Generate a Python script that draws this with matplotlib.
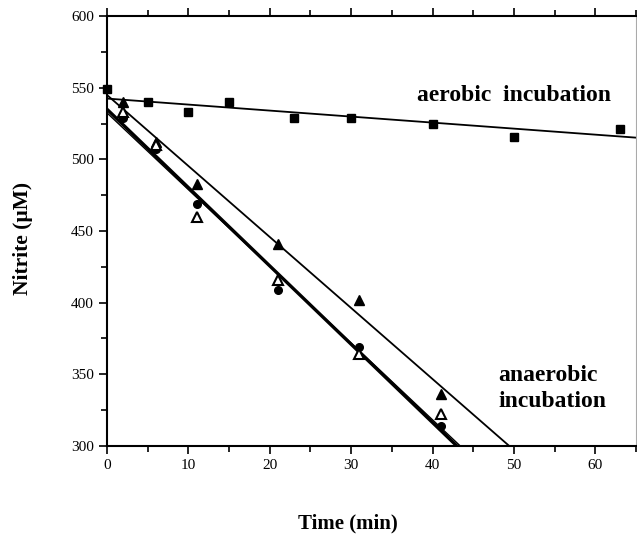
import numpy as np
import matplotlib.pyplot as plt
from matplotlib.ticker import MultipleLocator

# aerobic incubation (squares)
t_aer = [0, 5, 10, 15, 23, 30, 40, 50, 63]
n_aer = [549, 540, 533, 540, 529, 529, 525, 516, 521]

# anaerobic incubation
t_ana = [2, 6, 11, 21, 31, 41]
n_tri_filled = [540, 512, 483, 441, 402, 336]
n_circle = [529, 507, 469, 409, 369, 314]
n_tri_open = [533, 510, 460, 416, 364, 322]

# regression lines (intercept, slope)
fit_aer = (542.5, -0.42)
fit_tri_filled = (545.0, -4.96)
fit_circle = (535.0, -5.47)
fit_tri_open = (532.5, -5.36)

plt.rcParams['font.family'] = ['Liberation Serif', 'DejaVu Serif']

fig = plt.figure(figsize=(6.37, 5.41), dpi=100)
ax = fig.add_axes([0.168, 0.176, 0.8305, 0.794])

xx = np.array([0, 65])
for (b, m), lw in [(fit_aer, 1.3), (fit_tri_filled, 1.3), (fit_circle, 2.4), (fit_tri_open, 1.0)]:
    ax.plot(xx, b + m * xx, color='black', lw=lw, solid_capstyle='butt')

ax.plot(t_aer, n_aer, 's', color='black', ms=5.5, clip_on=False, zorder=5)
ax.plot(t_ana, n_tri_filled, '^', color='black', ms=7.5, zorder=5)
ax.plot(t_ana, n_circle, 'o', color='black', ms=5.5, zorder=5)
ax.plot(t_ana, n_tri_open, '^', color='black', mfc='white', mew=1.5, ms=6.5, zorder=5)

ax.set_xlim(0, 65)
ax.set_ylim(300, 600)
ax.xaxis.set_major_locator(MultipleLocator(10))
ax.xaxis.set_minor_locator(MultipleLocator(5))
ax.yaxis.set_major_locator(MultipleLocator(50))
ax.yaxis.set_minor_locator(MultipleLocator(25))
ax.tick_params(which='both', direction='out', top=True, labelsize=11, width=1.2)
ax.tick_params(which='major', length=6)
ax.tick_params(which='minor', length=4)
for s in ['left', 'bottom', 'top']:
    ax.spines[s].set_linewidth(1.5)
ax.spines['right'].set_color('#aaaaaa')
ax.spines['right'].set_linewidth(0.8)

ax.text(38.1, 540.5, 'aerobic  incubation', fontsize=17, fontweight='bold')
ax.text(48.1, 327, 'anaerobic\nincubation', fontsize=17, fontweight='bold', linespacing=1.3)

fig.text(0.036, 0.56, 'Nitrite (\u00b5M)', rotation=90, fontsize=15.5, fontweight='bold',
         ha='center', va='center')
fig.text(0.546, 0.033, 'Time (min)', fontsize=15, fontweight='bold', ha='center', va='center')

plt.savefig('out.png', dpi=100)
